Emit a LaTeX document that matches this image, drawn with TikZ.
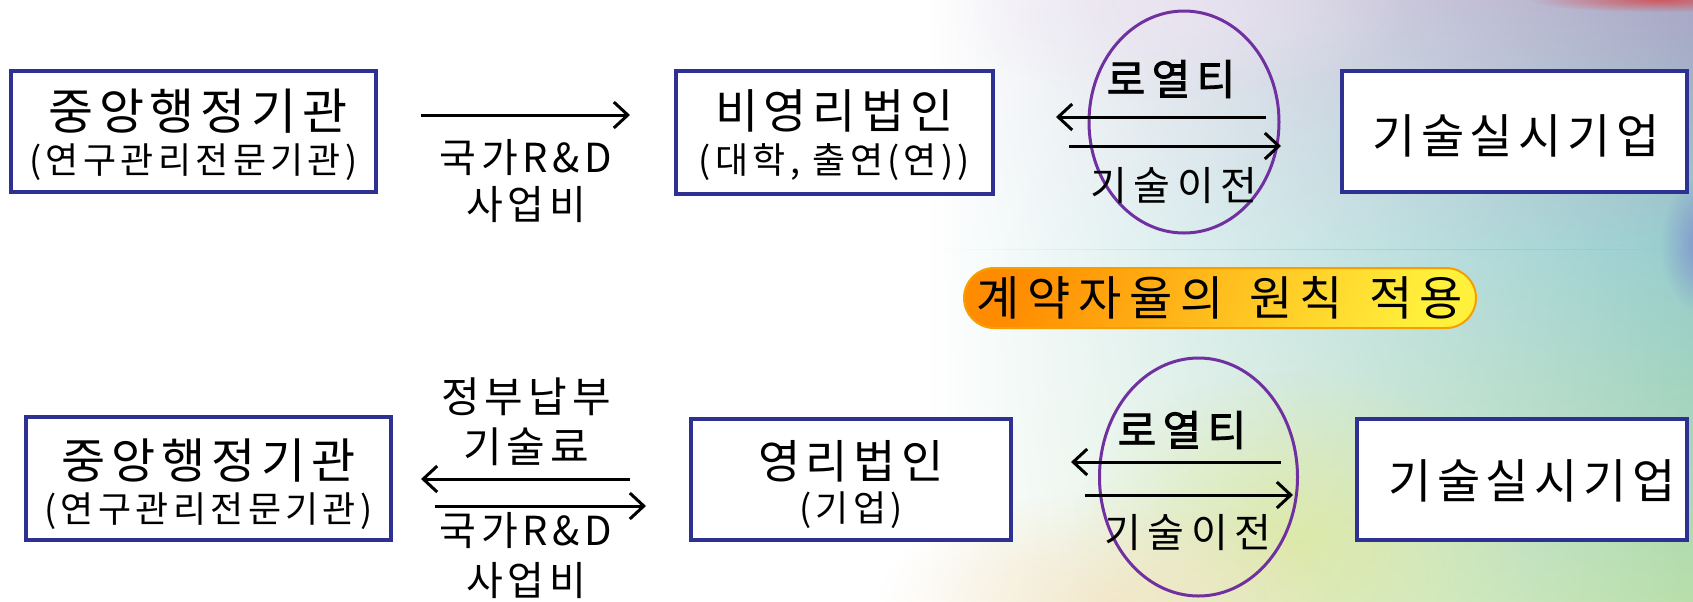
\documentclass[tikz,border=0pt]{standalone}
\usepackage{fontspec}
\setmainfont{Noto Sans CJK KR}[LetterSpace=12]
\newfontfamily\kbold{Noto Sans CJK KR}[FakeBold=2,LetterSpace=15]
\newfontfamily\kwide{Noto Sans CJK KR}[LetterSpace=16]
\usetikzlibrary{arrows.meta,fadings,shapes.geometric,calc}
\definecolor{boxblue}{RGB}{46,49,146}
\definecolor{ellpurple}{RGB}{112,48,160}
\definecolor{pillorange}{RGB}{255,140,0}
\definecolor{pillyellow}{RGB}{255,240,60}
\definecolor{pillborder}{RGB}{245,160,0}
\definecolor{bgtop}{RGB}{170,166,198}
\definecolor{bgteal}{RGB}{150,205,205}
\definecolor{bgbot}{RGB}{184,222,170}
\definecolor{bgyg}{RGB}{222,232,158}
\definecolor{bgpeach}{RGB}{246,226,192}
\definecolor{bglav}{RGB}{236,228,242}
\definecolor{bgred}{RGB}{215,70,70}
\definecolor{bgblue}{RGB}{120,130,205}
\tikzfading[name=softblob, inner color=transparent!0, outer color=transparent!100]
\tikzfading[name=fadeleft, left color=transparent!100, middle color=transparent!15, right color=transparent!0]
\newcommand\pxf[1]{\fontsize{\dimexpr#1pt/2\relax}{\dimexpr#1pt*6/10\relax}\selectfont}
\begin{document}
\begin{tikzpicture}[x=0.5pt,y=-0.5pt,
  box/.style={draw=boxblue, line width=2.25pt, fill=white, inner sep=0pt},
  oval/.style={draw=ellpurple, line width=1.5pt, ellipse, inner sep=0pt},
  flow/.style={-{Straight Barb[length=7pt,width=13pt]}, line width=1.5pt, black},
  lbl/.style={inner sep=0pt, anchor=center},
  blob/.style={path fading=softblob},
  pill/.style={draw=pillborder, line width=1pt, rounded corners=15pt, left color=pillorange, right color=pillyellow, shading angle=70, inner sep=0pt}
]
\useasboundingbox (0,0) rectangle (1693,601);
\fill[white] (0,0) rectangle (1693,601);
\begin{scope}
\clip (0,0) rectangle (1693,601);
\shade[top color=bgtop, bottom color=bgteal, path fading=fadeleft] (930,0) rectangle (1693,250);
\shade[top color=bgteal, bottom color=bgbot, path fading=fadeleft] (930,250) rectangle (1693,601);
\fill[bgyg, blob, opacity=0.8] (1300,540) ellipse [x radius=230, y radius=170];
\fill[bgpeach, blob, opacity=0.7] (1110,601) ellipse [x radius=230, y radius=110];
\fill[bglav, blob, opacity=0.7] (1180,10) ellipse [x radius=230, y radius=90];
\fill[bgred, blob, opacity=0.8] (1660,0) ellipse [x radius=130, y radius=12];
\fill[bgblue, blob, opacity=0.8] (1705,245) ellipse [x radius=45, y radius=70];
\end{scope}

% top row
\node[box, minimum width=182.5pt, minimum height=60.5pt] (a1) at (193.5,131.5) {};
\node[lbl] (a1t) at (198,111) {\pxf{49}중앙행정기관};
\node[lbl] (a1s) at (193.5,162) {\pxf{36}(연구관리전문기관)};
\coordinate (r1s) at (421,115);
\coordinate (r1e) at (630,115);
\draw[flow] (r1s) -- (r1e);
\node[lbl] (r1l1) at (526,158) {\pxf{40}국가R\&D};
\node[lbl] (r1l2) at (526,205) {\pxf{40}사업비};
\node[box, minimum width=158.5pt, minimum height=61.5pt] (b1) at (834.5,132.5) {};
\node[lbl] (b1t) at (834.5,111) {\pxf{47}비영리법인};
\node[lbl] (b1s) at (834.5,162) {\pxf{36}(대학, 출연(연))};
\node[oval, minimum width=95pt, minimum height=111pt] (e1) at (1184,122) {};
\node[lbl] (e1t) at (1171,79) {\pxf{42}\kbold 로열티};
\coordinate (e1ls) at (1266,117);
\coordinate (e1le) at (1056,117);
\coordinate (e1rs) at (1069,146);
\coordinate (e1re) at (1281,146);
\draw[flow] (e1ls) -- (e1le);
\draw[flow] (e1rs) -- (e1re);
\node[lbl] (e1b) at (1174,186) {\pxf{40}\kwide 기술이전};
\node[box, minimum width=172.5pt, minimum height=60.5pt] (c1) at (1514.5,131.5) {};
\node[lbl] (c1t) at (1516,136) {\pxf{47}기술실시기업};

% middle
\node[pill, minimum width=256pt, minimum height=30pt] (p) at (1220,298) {\pxf{47}\kwide 계약자율의\, 원칙\, 적용};

% bottom row
\node[box, minimum width=182.5pt, minimum height=61.5pt] (a2) at (208.5,478.5) {};
\node[lbl] (a2t) at (208.5,461) {\pxf{48}중앙행정기관};
\node[lbl] (a2s) at (208.5,511) {\pxf{36}(연구관리전문기관)};
\node[lbl] (r2u1) at (526,397) {\pxf{42}정부납부};
\node[lbl] (r2u2) at (526,447) {\pxf{42}기술료};
\coordinate (r2ls) at (630,479);
\coordinate (r2le) at (421,479);
\coordinate (r2rs) at (435,506);
\coordinate (r2re) at (646,506);
\draw[flow] (r2ls) -- (r2le);
\draw[flow] (r2rs) -- (r2re);
\node[lbl] (r2d1) at (526,531) {\pxf{40}국가R\&D};
\node[lbl] (r2d2) at (526,581) {\pxf{40}사업비};
\node[box, minimum width=160pt, minimum height=60.5pt] (b2) at (851,479.5) {};
\node[lbl] (b2t) at (851,461) {\pxf{46}영리법인};
\node[lbl] (b2s) at (851,510) {\pxf{36}(기업)};
\node[oval, minimum width=99pt, minimum height=119pt] (e2) at (1198.5,477) {};
\node[lbl] (e2t) at (1182,430) {\pxf{42}\kbold 로열티};
\coordinate (e2ls) at (1281,462);
\coordinate (e2le) at (1071,462);
\coordinate (e2rs) at (1085,495);
\coordinate (e2re) at (1293,495);
\draw[flow] (e2ls) -- (e2le);
\draw[flow] (e2rs) -- (e2re);
\node[lbl] (e2b) at (1188,533) {\pxf{40}\kwide 기술이전};
\node[box, minimum width=165pt, minimum height=60.5pt] (c2) at (1522,479.5) {};
\node[lbl] (c2t) at (1532,481) {\pxf{47}기술실시기업};
\end{tikzpicture}
\end{document}
